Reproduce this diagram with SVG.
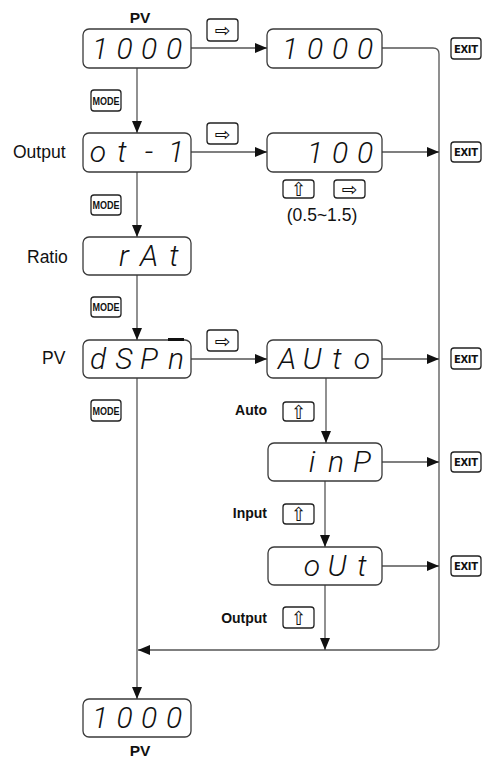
<svg xmlns="http://www.w3.org/2000/svg" width="483" height="758" viewBox="0 0 483 758">
<style>
.box{fill:#fff;stroke:#3a3a3a;stroke-width:1.3}
.seg{font-family:Roboto,"DejaVu Sans",sans-serif;font-style:italic;font-weight:300;font-size:30px;fill:#111;text-anchor:middle}
.btn{fill:#fff;stroke:#222;stroke-width:1.3}
.sym{font-family:"DejaVu Sans",sans-serif;font-size:19px;fill:#111;text-anchor:middle}
.mode{font-family:"Liberation Sans",Arial,sans-serif;font-weight:bold;font-size:10.5px;fill:#111;text-anchor:middle}
.exit{font-family:"DejaVu Sans",sans-serif;font-weight:bold;font-size:10px;fill:#111;text-anchor:middle}
.lbl{font-family:"Liberation Sans",Arial,sans-serif;font-size:17.5px;fill:#111}
.blbl{font-family:"Liberation Sans",Arial,sans-serif;font-weight:bold;font-size:14px;fill:#111;text-anchor:end}
.pv{font-family:"Liberation Sans",Arial,sans-serif;font-weight:bold;font-size:15.5px;fill:#111;text-anchor:middle}
.ln{fill:none;stroke:#555;stroke-width:1.3}
</style>
<defs>
<marker id="ah" markerWidth="12" markerHeight="10" refX="12" refY="5" orient="auto" markerUnits="userSpaceOnUse"><path d="M0,0 L12,5 L0,10 z" fill="#111"/></marker>
</defs>

<g id="connectors">
<path class="ln" d="M137,68 V133" marker-end="url(#ah)"/>
<path class="ln" d="M191,48 H267" marker-end="url(#ah)"/>
<path class="ln" d="M382,48 H433 Q439,48 439,54 V644 Q439,650 433,650 H138" marker-end="url(#ah)"/>
<path class="ln" d="M191,152 H267" marker-end="url(#ah)"/>
<path class="ln" d="M382,152 H439" marker-end="url(#ah)"/>
<path class="ln" d="M137,172 V237" marker-end="url(#ah)"/>
<path class="ln" d="M137,275 V340" marker-end="url(#ah)"/>
<path class="ln" d="M191,359 H267" marker-end="url(#ah)"/>
<path class="ln" d="M382,359 H439" marker-end="url(#ah)"/>
<path class="ln" d="M137,378 V699" marker-end="url(#ah)"/>
<path class="ln" d="M326,378 V443" marker-end="url(#ah)"/>
<path class="ln" d="M382,462 H439" marker-end="url(#ah)"/>
<path class="ln" d="M325,481 V547" marker-end="url(#ah)"/>
<path class="ln" d="M382,566 H439" marker-end="url(#ah)"/>
<path class="ln" d="M325,585 V650" marker-end="url(#ah)"/>
</g>

<g id="pv-top">
<text class="pv" x="140" y="23">PV</text>
<rect class="box" x="83" y="29" width="108" height="39" rx="6"/>
<text class="seg" x="100 124.5 149 174" y="59">1000</text>
</g>
<g id="pv-right">
<rect class="box" x="267" y="29" width="115" height="39" rx="6"/>
<text class="seg" x="290 315 340 365" y="59">1000</text>
</g>
<g id="output">
<text class="lbl" x="13" y="158">Output</text>
<rect class="box" x="83" y="133" width="108" height="39" rx="6"/>
<text class="seg" x="98 122 149 176" y="162">ot-1</text>
</g>
<g id="output-value">
<rect class="box" x="267" y="133" width="115" height="39" rx="6"/>
<text class="seg" x="315 340 365" y="163">100</text>
</g>
<g id="ratio">
<text class="lbl" x="27" y="263">Ratio</text>
<rect class="box" x="83" y="237" width="108" height="38" rx="6"/>
<text class="seg" x="124 149 174" y="266">rAt</text>
</g>
<g id="dspm">
<text class="lbl" x="42" y="364">PV</text>
<rect class="box" x="83" y="340" width="108" height="38" rx="6"/>
<text class="seg" x="98 124 149 176" y="369">dSP<tspan text-decoration="overline">n</tspan></text>
</g>
<g id="auto">
<rect class="box" x="267" y="340" width="115" height="38" rx="6"/>
<text class="seg" x="287 312 337 362" y="369">AUto</text>
</g>
<g id="inp">
<rect class="box" x="268" y="443" width="114" height="38" rx="6"/>
<text class="seg" x="312 336 362" y="472">inP</text>
</g>
<g id="out">
<rect class="box" x="268" y="547" width="114" height="38" rx="6"/>
<text class="seg" x="312 337 362" y="576">oUt</text>
</g>
<g id="pv-bottom">
<rect class="box" x="83" y="699" width="108" height="38" rx="6"/>
<text class="seg" x="100 124.5 149 174" y="728">1000</text>
<text class="pv" x="140" y="756">PV</text>
</g>

<g id="keys">
<rect class="btn" x="207" y="19" width="31" height="22" rx="3"/><text class="sym" x="222.5" y="37">⇨</text>
<rect class="btn" x="207" y="123" width="31" height="21" rx="3"/><text class="sym" x="222.5" y="140.5">⇨</text>
<rect class="btn" x="207" y="330" width="31" height="21" rx="3"/><text class="sym" x="222.5" y="347.5">⇨</text>
<rect class="btn" x="283" y="180" width="31" height="18" rx="3"/><text class="sym" x="298.5" y="196">⇧</text>
<rect class="btn" x="334" y="180" width="31" height="18" rx="3"/><text class="sym" x="349.5" y="196">⇨</text>
<text class="lbl" x="322" y="221" text-anchor="middle">(0.5~1.5)</text>
<rect class="btn" x="283" y="402" width="31" height="19" rx="3"/><text class="sym" x="298.5" y="418.5">⇧</text>
<rect class="btn" x="283" y="504" width="31" height="20" rx="3"/><text class="sym" x="298.5" y="521">⇧</text>
<rect class="btn" x="283" y="607" width="31" height="21" rx="3"/><text class="sym" x="298.5" y="624.5">⇧</text>
<text class="blbl" x="267" y="415">Auto</text>
<text class="blbl" x="267" y="518">Input</text>
<text class="blbl" x="267" y="623">Output</text>
<rect class="btn" x="91" y="90" width="30" height="21" rx="3"/><text class="mode" x="106" y="104.5" textLength="27" lengthAdjust="spacingAndGlyphs">MODE</text>
<rect class="btn" x="91" y="195" width="30" height="20" rx="3"/><text class="mode" x="106" y="209" textLength="27" lengthAdjust="spacingAndGlyphs">MODE</text>
<rect class="btn" x="91" y="297" width="30" height="20" rx="3"/><text class="mode" x="106" y="311" textLength="27" lengthAdjust="spacingAndGlyphs">MODE</text>
<rect class="btn" x="91" y="400" width="30" height="21" rx="3"/><text class="mode" x="106" y="414.5" textLength="27" lengthAdjust="spacingAndGlyphs">MODE</text>
<rect class="btn" x="451" y="38" width="30" height="21" rx="3"/><text class="exit" x="466" y="52.5" textLength="24" lengthAdjust="spacing">EXIT</text>
<rect class="btn" x="451" y="142" width="30" height="20" rx="3"/><text class="exit" x="466" y="156" textLength="24" lengthAdjust="spacing">EXIT</text>
<rect class="btn" x="451" y="348" width="30" height="21" rx="3"/><text class="exit" x="466" y="362.5" textLength="24" lengthAdjust="spacing">EXIT</text>
<rect class="btn" x="451" y="452" width="30" height="20" rx="3"/><text class="exit" x="466" y="466" textLength="24" lengthAdjust="spacing">EXIT</text>
<rect class="btn" x="451" y="556" width="30" height="20" rx="3"/><text class="exit" x="466" y="570" textLength="24" lengthAdjust="spacing">EXIT</text>
</g>
</svg>
